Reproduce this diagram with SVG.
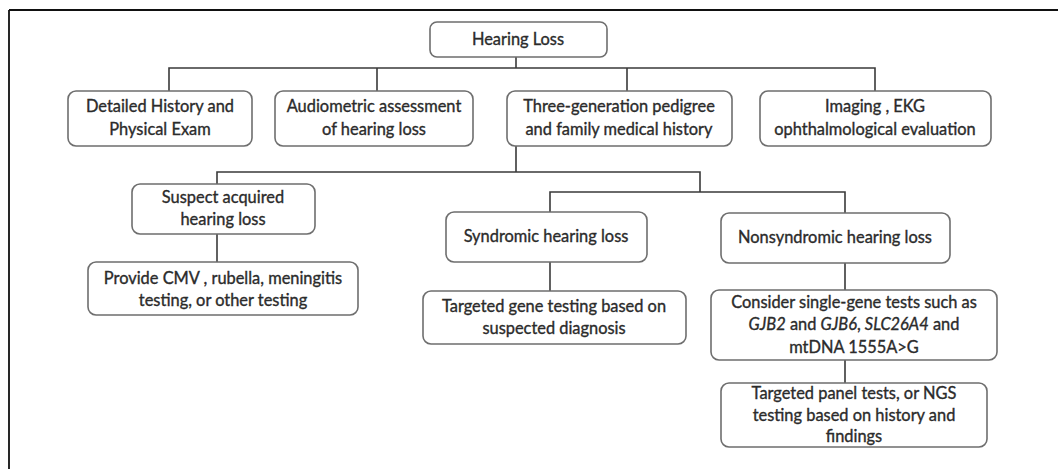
<svg xmlns="http://www.w3.org/2000/svg" width="1058" height="469" viewBox="0 0 1058 469">
<style>
.box{fill:#fff;stroke:#6e6e6e;stroke-width:1.6}
.t{font-family:Lato,"Open Sans","Liberation Sans",sans-serif;font-size:16.4px;fill:#2b2b2b;stroke:#2b2b2b;stroke-width:0.35;text-anchor:middle}
.c{fill:none;stroke:#3a3a3a;stroke-width:1.6}
.i{font-style:italic}
</style>
<rect x="0" y="0" width="1058" height="469" fill="#fff"/>
<g id="frame">
<path d="M9,10 H1058 M9,10 V469" fill="none" stroke="#111" stroke-width="1.8"/>
</g>
<g id="connectors">
<path class="c" d="M516,57 V68 M169,91 V68 H875 V91 M377,68 V91 M627,68 V91"/>
<path class="c" d="M516,146 V172 M217,184 V172 H700 V192 M550,212 V192 H845 V213"/>
<path class="c" d="M217,234 V262"/>
<path class="c" d="M550,262 V291"/>
<path class="c" d="M845,263 V290 M845,360 V383"/>
</g>
<g id="n-hearing-loss"><rect class="box" x="430" y="22" width="177" height="35" rx="7"/><text class="t" x="518" y="45">Hearing Loss</text></g>
<g id="n-history"><rect class="box" x="68" y="91" width="184" height="55" rx="8"/><text class="t" x="160" y="112">Detailed History and</text><text class="t" x="160" y="135">Physical Exam</text></g>
<g id="n-audiometric"><rect class="box" x="275" y="91" width="198" height="55" rx="8"/><text class="t" x="374" y="112">Audiometric assessment</text><text class="t" x="374" y="135">of hearing loss</text></g>
<g id="n-pedigree"><rect class="box" x="507" y="91" width="225" height="55" rx="8"/><text class="t" x="619" y="112">Three-generation pedigree</text><text class="t" x="619" y="135">and family medical history</text></g>
<g id="n-imaging"><rect class="box" x="760" y="91" width="231" height="55" rx="8"/><text class="t" x="875" y="112">Imaging , EKG</text><text class="t" x="875" y="135">ophthalmological evaluation</text></g>
<g id="n-acquired"><rect class="box" x="132" y="184" width="183" height="50" rx="8"/><text class="t" x="223" y="203">Suspect acquired</text><text class="t" x="223" y="225">hearing loss</text></g>
<g id="n-provide"><rect class="box" x="88" y="262" width="270" height="53" rx="8"/><text class="t" x="223" y="284">Provide CMV , rubella, meningitis</text><text class="t" x="223" y="306">testing, or other testing</text></g>
<g id="n-syndromic"><rect class="box" x="446" y="212" width="201" height="50" rx="8"/><text class="t" x="546" y="242">Syndromic hearing loss</text></g>
<g id="n-targeted-gene"><rect class="box" x="423" y="291" width="263" height="53" rx="8"/><text class="t" x="554" y="312">Targeted gene testing based on</text><text class="t" x="554" y="334">suspected diagnosis</text></g>
<g id="n-nonsyndromic"><rect class="box" x="721" y="213" width="229" height="50" rx="8"/><text class="t" x="835" y="243">Nonsyndromic hearing loss</text></g>
<g id="n-single-gene"><rect class="box" x="711" y="290" width="286" height="70" rx="8"/><text class="t" x="854" y="308">Consider single-gene tests such as</text><text class="t" x="854" y="330"><tspan class="i">GJB2</tspan> and <tspan class="i">GJB6</tspan>, <tspan class="i">SLC26A4</tspan> and</text><text class="t" x="854" y="353">mtDNA 1555A&gt;G</text></g>
<g id="n-panel"><rect class="box" x="721" y="383" width="266" height="64" rx="8"/><text class="t" x="854" y="399">Targeted panel tests, or NGS</text><text class="t" x="854" y="421">testing based on history and</text><text class="t" x="854" y="442">findings</text></g>
</svg>
